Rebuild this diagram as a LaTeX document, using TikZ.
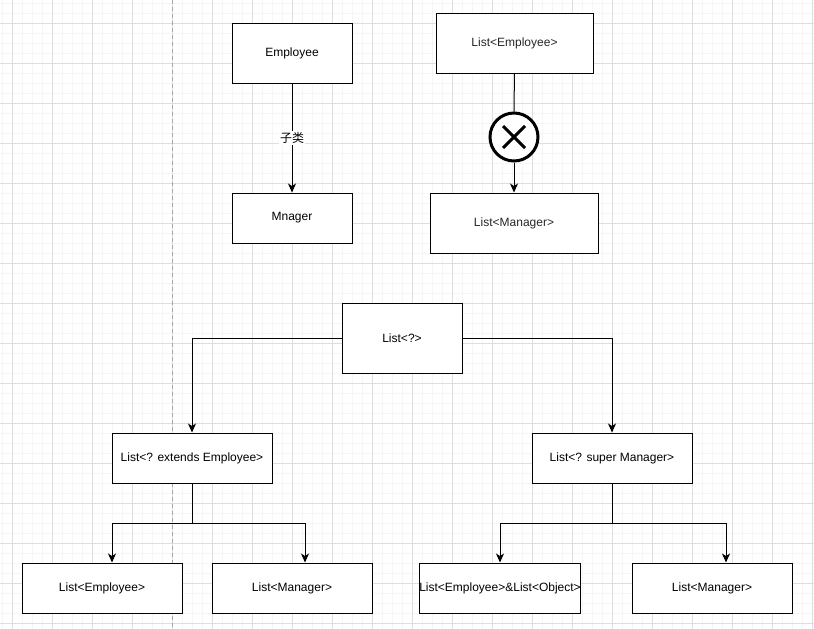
\documentclass[tikz,border=0pt]{standalone}
\usepackage{fontspec}
\setmainfont{Liberation Sans}
\newfontfamily\cjk{Noto Sans CJK SC}
\usetikzlibrary{arrows.meta}
\tikzset{box/.style = {draw, line width = 1pt, fill = white, inner sep = 0,
                       minimum width = 160pt, minimum height = 50pt,
                       font = \fontsize{12}{14}\selectfont}}
\tikzset{arr/.style = {line width = 1pt,
                       -{Stealth[length = 9pt, width = 8pt, inset = 2.5pt]}}}
\tikzset{minorline/.style = {color = black!4, line width = 0.8pt}}
\tikzset{majorline/.style = {color = black!13, line width = 0.8pt}}

\begin{document}
\begin{tikzpicture}[x=1pt, y=-1pt]
      \useasboundingbox (0, 0) rectangle (814, 629);
      \fill [white] (0, 0) rectangle (814, 629);
      % grid
      \foreach \x in {2, 12, ..., 812} \draw [minorline] (\x, 0) -- (\x, 629);
      \foreach \y in {3, 13, ..., 623} \draw [minorline] (0, \y) -- (814, \y);
      \foreach \x in {12, 52, ..., 812} \draw [majorline] (\x, 0) -- (\x, 629);
      \foreach \y in {23, 63, ..., 623} \draw [majorline] (0, \y) -- (814, \y);
      \draw [black!35, line width = 0.8pt, dash pattern = on 4pt off 3pt] (172, 0) -- (172, 629);

      % subclass
      \node [box, minimum width = 120pt, minimum height = 60pt] (emp) at (292, 53) {Employee};
      \node [box, minimum width = 120pt, minimum height = 50pt] (mgr) at (292, 218) {Mnager};
      \draw [arr] (emp) -- node [fill = white, inner sep = 1pt, font = \cjk\fontsize{12}{14}\selectfont] (sub) {子类} (mgr);

      % not a subtype
      \node [box, minimum width = 157pt, minimum height = 60pt, text = black!85] (lemp) at (514.5, 43) {List<Employee>};
      \node [box, minimum width = 168pt, minimum height = 60pt, text = black!85] (lmgr) at (514, 223) {List<Manager>};
      \node [circle, draw, line width = 3pt, fill = white, inner sep = 0, minimum size = 48pt] (cross) at (514, 137) {};
      \draw [line width = 3pt] ([shift = {(-11, -11)}] cross.center) -- ([shift = {(11, 11)}] cross.center);
      \draw [line width = 3pt] ([shift = {(-11, 11)}] cross.center) -- ([shift = {(11, -11)}] cross.center);
      \draw [line width = 1pt] (lemp) -- (cross);
      \draw [arr] (cross) -- (lmgr);

      % wildcards
      \node [box, minimum width = 120pt, minimum height = 70pt] (any) at (402, 338) {List<?>};
      \node [box] (ext) at (192, 458) {List<? extends Employee>};
      \node [box] (sup) at (612, 458) {List<? super Manager>};
      \node [box] (extemp) at (102, 588) {List<Employee>};
      \node [box] (extmgr) at (292, 588) {List<Manager>};
      \node [box] (supobj) at (500, 588) {List<Employee>\&List<Object>};
      \node [box] (supmgr) at (712, 588) {List<Manager>};

      \draw [arr] (any.west) -| (ext.north);
      \draw [arr] (any.east) -| (sup.north);
      \draw [arr] (ext.south) -- ++(0, 40) -| ([xshift = 10pt] extemp.north);
      \draw [arr] (ext.south) -- ++(0, 40) -| ([xshift = 13pt] extmgr.north);
      \draw [arr] (sup.south) -- ++(0, 40) -| (supobj.north);
      \draw [arr] (sup.south) -- ++(0, 40) -| ([xshift = 14pt] supmgr.north);
\end{tikzpicture}
\end{document}
